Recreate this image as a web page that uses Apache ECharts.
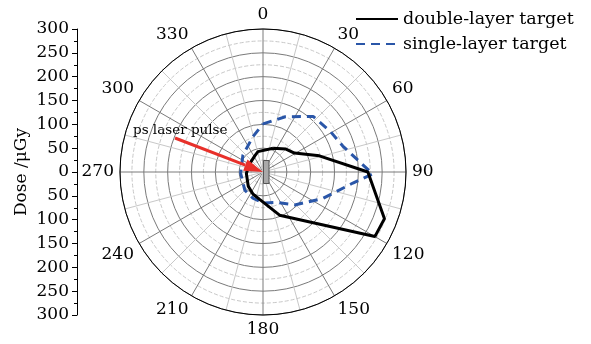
<!DOCTYPE html>
<html>
<head>
<meta charset="utf-8">
<script src="https://cdn.jsdelivr.net/npm/echarts@6/dist/echarts.min.js"></script>
<style>
  html, body { margin: 0; padding: 0; background: #fff; }
  #main { width: 591px; height: 344px; }
</style>
</head>
<body>
<div id="main"></div>
<script>
// angles in degrees (0 = up, clockwise), dose in µGy
const doubleAngle = [23, 45, 59, 74, 90, 111, 120, 159, 187, 204, 226, 265, 298, 333, 346];
const doubleDose  = [54, 68, 77, 123, 220, 273, 271, 97, 58, 51, 43, 35, 33, 38, 44];

const singleAngle = [0, 22, 42, 59, 72, 91, 97, 114, 136, 156, 180, 201, 225, 267, 310, 344];
const singleDose  = [101, 125, 157, 165, 176, 230, 190, 137, 96, 70, 65, 59, 54, 47, 55, 77];

const seriesNames = ["double-layer target", "single-layer target"];

const FONT = "DejaVu Serif";
const CX = 263, CY = 172, R = 143;

function closedLoop(angles, values) {
  const pts = angles.map((a, i) => [values[i], a]);
  pts.push(pts[0]);
  return pts;
}

const chart = echarts.init(document.getElementById("main"));

const option = {
  animation: false,
  backgroundColor: "#fff",
  polar: { center: [CX, CY], radius: R },
  angleAxis: {
    type: "value",
    min: 0,
    max: 360,
    interval: 30,
    startAngle: 90,
    clockwise: true,
    axisLine: { lineStyle: { color: "#000", width: 1 } },
    axisTick: { show: false },
    axisLabel: { color: "#000", fontFamily: FONT, fontSize: 17, margin: 6 },
    splitLine: { lineStyle: { color: "#7a7a7a", width: 1 } },
    minorTick: { show: false, splitNumber: 2 },
    minorSplitLine: { show: true, lineStyle: { color: "#c8c8c8", width: 1 } },
  },
  radiusAxis: {
    type: "value",
    min: 0,
    max: 300,
    interval: 50,
    axisLine: { show: false },
    axisTick: { show: false },
    axisLabel: { show: false },
    splitLine: { lineStyle: { color: "#7a7a7a", width: 1 } },
    minorTick: { show: false, splitNumber: 2 },
    minorSplitLine: { show: true, lineStyle: { color: "#c8c8c8", width: 1, type: [4, 2] } },
  },
  grid: { left: 77, top: CY - R, height: 2 * R, width: 1 },
  xAxis: { type: "value", show: false },
  yAxis: {
    type: "value",
    min: -300,
    max: 300,
    interval: 50,
    position: "left",
    axisLine: { show: true, lineStyle: { color: "#000", width: 1 } },
    axisTick: { show: true, length: 5, lineStyle: { color: "#000" } },
    minorTick: { show: true, splitNumber: 2, length: 3, lineStyle: { color: "#000" } },
    splitLine: { show: false },
    axisLabel: {
      color: "#000",
      fontFamily: FONT,
      fontSize: 17,
      margin: 8,
      formatter: (v) => String(Math.abs(v)),
    },
    name: "Dose /μGy",
    nameLocation: "middle",
    nameGap: 47,
    nameTextStyle: { color: "#000", fontFamily: FONT, fontSize: 17 },
  },
  legend: {
    left: 355,
    top: 10,
    padding: 0,
    orient: "vertical",
    itemWidth: 42,
    itemHeight: 14,
    itemGap: 7,
    itemStyle: { opacity: 0 },
    textStyle: { color: "#000", fontFamily: FONT, fontSize: 17.5 },
    data: seriesNames,
  },
  series: [
    {
      name: seriesNames[0],
      type: "line",
      coordinateSystem: "polar",
      symbol: "none",
      lineStyle: { color: "#000", width: 3 },
      itemStyle: { color: "#000" },
      data: closedLoop(doubleAngle, doubleDose),
      z: 5,
    },
    {
      name: seriesNames[1],
      type: "line",
      coordinateSystem: "polar",
      symbol: "none",
      lineStyle: { color: "#2a56a8", width: 3, type: [9, 6] },
      itemStyle: { color: "#2a56a8" },
      data: closedLoop(singleAngle, singleDose),
      z: 4,
    },
  ],
};

chart.setOption(option);

// annotations: target block and laser arrow
const tip = [CX, CY];
const start = [175, 138];
const dx = tip[0] - start[0], dy = tip[1] - start[1];
const len = Math.sqrt(dx * dx + dy * dy);
const ux = dx / len, uy = dy / len;
const headLen = 19, headW = 6;
const base = [tip[0] - ux * headLen, tip[1] - uy * headLen];

chart.setOption({
  graphic: [
    {
      type: "rect",
      shape: { x: CX + 0.5, y: CY - 11.5, width: 5.5, height: 23 },
      style: { fill: "#a9a9a9", stroke: "#555", lineWidth: 1 },
      z: 10,
    },
    {
      type: "line",
      shape: { x1: start[0], y1: start[1], x2: base[0], y2: base[1] },
      style: { stroke: "#e8302a", lineWidth: 3 },
      z: 11,
    },
    {
      type: "polygon",
      shape: {
        points: [
          tip,
          [base[0] - uy * headW, base[1] + ux * headW],
          [base[0] + uy * headW, base[1] - ux * headW],
        ],
      },
      style: { fill: "#e8302a" },
      z: 11,
    },
    {
      type: "text",
      left: 133,
      top: 123,
      style: { text: "ps laser pulse", fill: "#000", font: "13.5px 'DejaVu Serif'" },
      z: 12,
    },
  ],
});
</script>
</body>
</html>
